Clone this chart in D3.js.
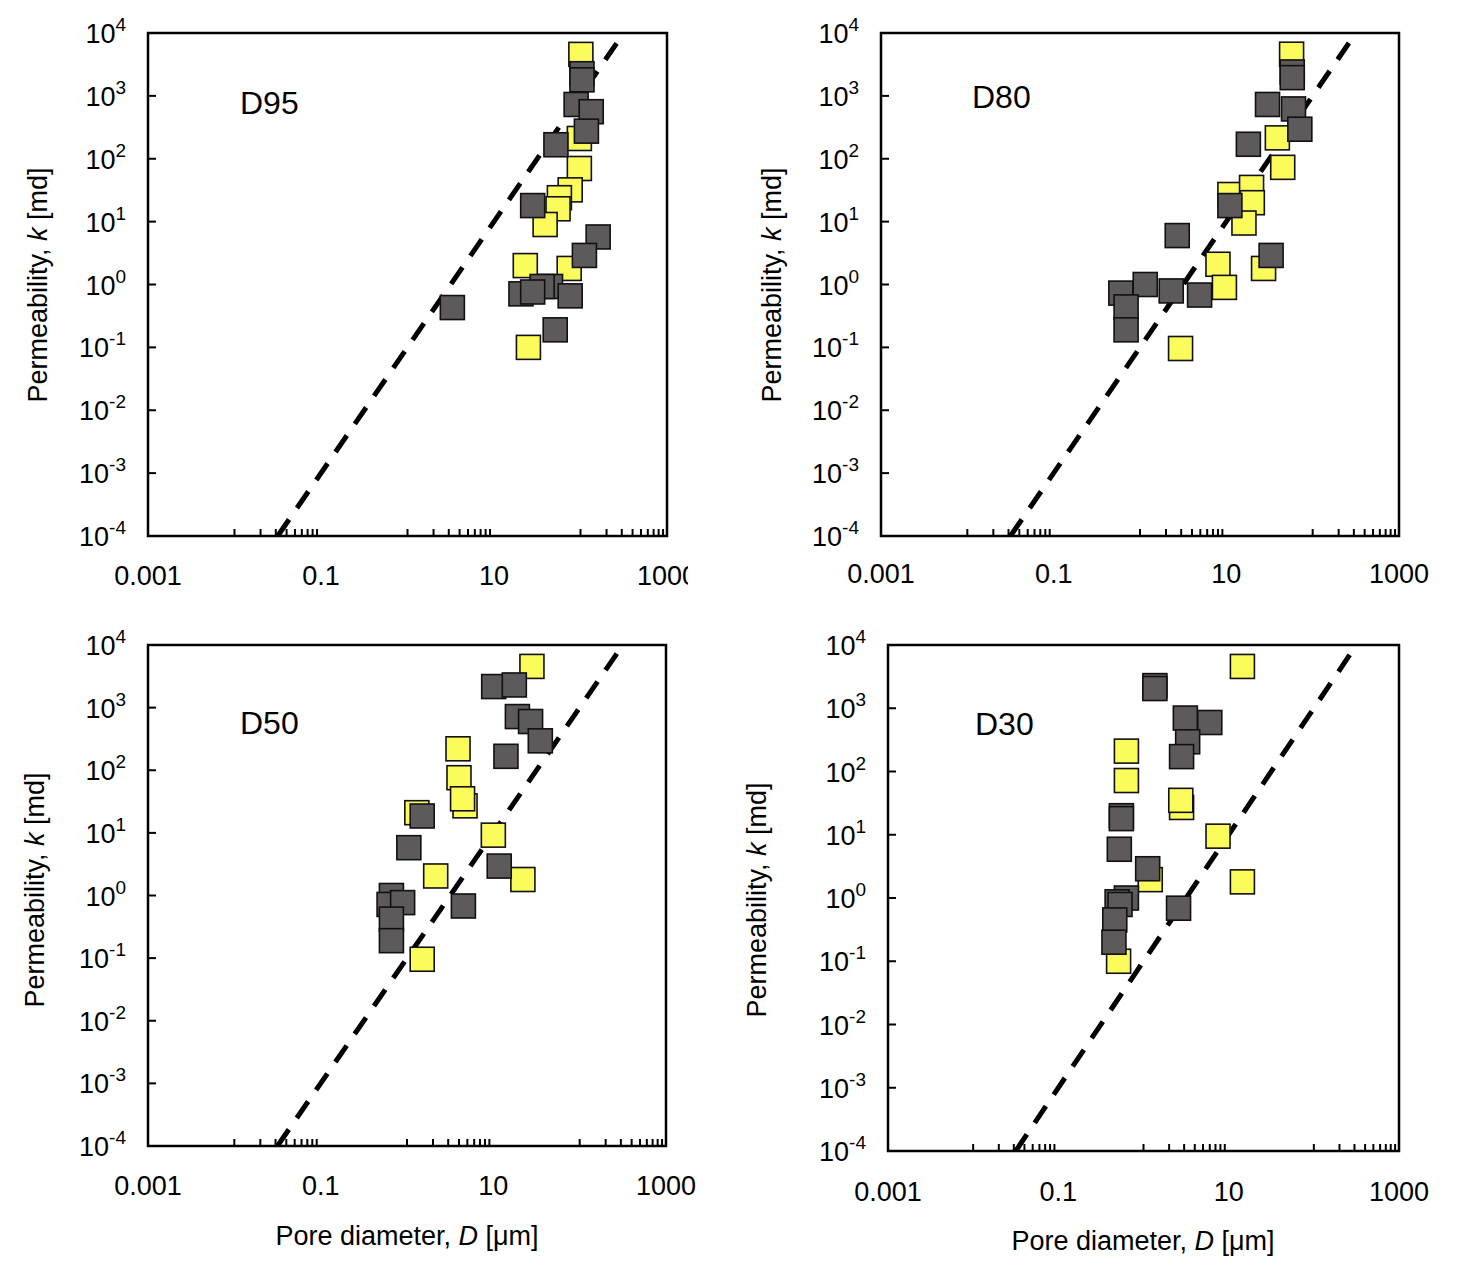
<!DOCTYPE html>
<html><head><meta charset="utf-8">
<script src="https://cdn.jsdelivr.net/npm/d3@7"></script>
<style>body{margin:0;background:#fff}svg{font-family:"Liberation Sans",Arial,sans-serif}</style>
</head><body>
<svg id="c" width="1457" height="1278"></svg>
<script>
// data: [D (µm), k (md)]
const d95Yellow=[[101,4570],[97,210],[97,70],[76,32],[57,24],[55,16],[39,9],[23,2],[74,1.8],[25,0.1]];
const d95Gray=[[104,2250],[104,1800],[89,730],[133,560],[117,275],[52,167],[28,18],[160,5.7],[111,2.9],[45,0.93],[36,0.93],[20.5,0.71],[28,0.76],[76,0.66],[51,0.19],[3.3,0.43]];
const d80Yellow=[[57,4600],[39,215],[45,73],[11,27],[19.6,35],[20,20],[16,9.5],[8,2.1],[9.5,0.9],[27,1.8],[2.95,0.096]];
const d80Gray=[[58,2400],[58,1950],[30,730],[60,620],[71,295],[18,170],[11,18],[33,2.9],[2.7,6],[1.15,1.0],[0.6,0.73],[0.69,0.44],[0.69,0.19],[2.3,0.79],[4.9,0.68]];
const d50Yellow=[[28,4550],[3.9,220],[4.0,76],[4.7,27],[4.4,35],[1.3,21],[10,9.2],[2.15,2.05],[22,1.8],[1.5,0.096]];
const d50Gray=[[10.1,2170],[17.5,2300],[19,720],[27,600],[35,295],[14,167],[1.5,18.6],[1.05,5.8],[11.7,2.95],[4.5,0.68],[0.66,1.0],[0.62,0.72],[0.89,0.77],[0.66,0.42],[0.66,0.19]];
const d30Yellow=[[14.5,4580],[0.63,210],[0.63,72],[2.8,27],[2.74,35],[7.5,9.5],[1.2,1.95],[14.5,1.8],[0.51,0.1]];
const d30Gray=[[1.36,2280],[1.36,2050],[3.1,700],[6.0,595],[3.3,295],[2.8,172],[0.55,20],[0.55,18],[0.52,5.9],[1.12,2.9],[2.58,0.69],[0.63,1.0],[0.49,0.87],[0.53,0.79],[0.46,0.45],[0.45,0.2]];
const xTickVals=[0.001,0.1,10,1000];
const xTickLabels=["0.001","0.1","10","1000"];
const yExponents=[-4,-3,-2,-1,0,1,2,3,4];
const fitLine=[[0.0316,1e-4],[316,1e4]]; // k = 0.1 D^2

const panels=[
 {name:"D95",y:d95Yellow,g:d95Gray,L:148,R:667,T:33,B:536,lab:[240,103],xl:575,yl:[38,285],clip:688},
 {name:"D80",y:d80Yellow,g:d80Gray,L:881,R:1399,T:33,B:536,lab:[972,97],xl:573,yl:[772,285]},
 {name:"D50",y:d50Yellow,g:d50Gray,L:148,R:666,T:645,B:1146,lab:[240,723],xl:1185,yl:[35,890],xt:[407,1236]},
 {name:"D30",y:d30Yellow,g:d30Gray,L:888,R:1399,T:645,B:1151,lab:[975,724],xl:1191,yl:[757,900],xt:[1143,1241]}
];
const svg=d3.select("#c");
svg.append("defs").append("clipPath").attr("id","cl1").append("rect").attr("x",0).attr("y",0).attr("width",688).attr("height",1278);
panels.forEach((p,i)=>{
 const x=d3.scaleLog().domain([0.001,1000]).range([p.L,p.R]);
 const y=d3.scaleLog().domain([1e-4,1e4]).range([p.B,p.T]);
 const g=svg.append("g");
 const cid="pc"+i;
 svg.select("defs").append("clipPath").attr("id",cid).append("rect").attr("x",p.L).attr("y",p.T).attr("width",p.R-p.L).attr("height",p.B-p.T);
 const minor=[];
 [-2,0,2].forEach(e=>{for(let m=1;m<=9;m++)minor.push(m*Math.pow(10,e));});
 g.selectAll(".mt").data(minor).join("line").attr("x1",d=>x(d)).attr("x2",d=>x(d)).attr("y1",p.B).attr("y2",p.B-7).attr("stroke","#000").attr("stroke-width",2);
 g.selectAll(".yt").data(yExponents).join("line").attr("x1",p.L).attr("x2",p.L+8).attr("y1",d=>y(Math.pow(10,d))).attr("y2",d=>y(Math.pow(10,d))).attr("stroke","#000").attr("stroke-width",2);
 g.append("path").attr("clip-path",`url(#${cid})`).attr("d",d3.line().x(d=>x(d[0])).y(d=>y(d[1]))(fitLine))
  .attr("stroke","#000").attr("stroke-width",5).attr("stroke-dasharray","20,14").attr("fill","none");
 const s=24;
 const drawSq=(arr,col)=>g.selectAll(null).data(arr).join("rect").attr("x",d=>x(d[0])-s/2).attr("y",d=>y(d[1])-s/2)
   .attr("width",s).attr("height",s).attr("fill",col).attr("stroke","#111").attr("stroke-width",1.6);
 drawSq(p.y,"#fbfb5c");
 drawSq(p.g,"#5e5a5b");
 g.append("rect").attr("x",p.L).attr("y",p.T).attr("width",p.R-p.L).attr("height",p.B-p.T).attr("fill","none").attr("stroke","#000").attr("stroke-width",2.5);
 const xg=g.append("g"); if(p.clip) xg.attr("clip-path","url(#cl1)");
 xg.selectAll("text").data(xTickVals).join("text").attr("x",d=>x(d)).attr("y",p.xl+10).attr("text-anchor","middle").attr("font-size",27).text((d,j)=>xTickLabels[j]);
 yExponents.forEach(e=>{
  const t=g.append("text").attr("x",p.L-22).attr("y",y(Math.pow(10,e))+10).attr("text-anchor","end").attr("font-size",27);
  t.append("tspan").text("10");
  t.append("tspan").attr("dy",-12).attr("font-size",19).text(e);
 });
 g.append("text").attr("x",p.lab[0]).attr("y",p.lab[1]+11).attr("font-size",32).text(p.name);
 const yt=g.append("text").attr("transform",`translate(${p.yl[0]+9},${p.yl[1]}) rotate(-90)`).attr("text-anchor","middle").attr("font-size",27);
 yt.append("tspan").text("Permeability, ");yt.append("tspan").attr("font-style","italic").text("k");yt.append("tspan").text(" [md]");
 if(p.xt){const xt=g.append("text").attr("x",p.xt[0]).attr("y",p.xt[1]+9).attr("text-anchor","middle").attr("font-size",27);
  xt.append("tspan").text("Pore diameter, ");xt.append("tspan").attr("font-style","italic").text("D");xt.append("tspan").text(" [μm]");}
});
</script></body></html>
